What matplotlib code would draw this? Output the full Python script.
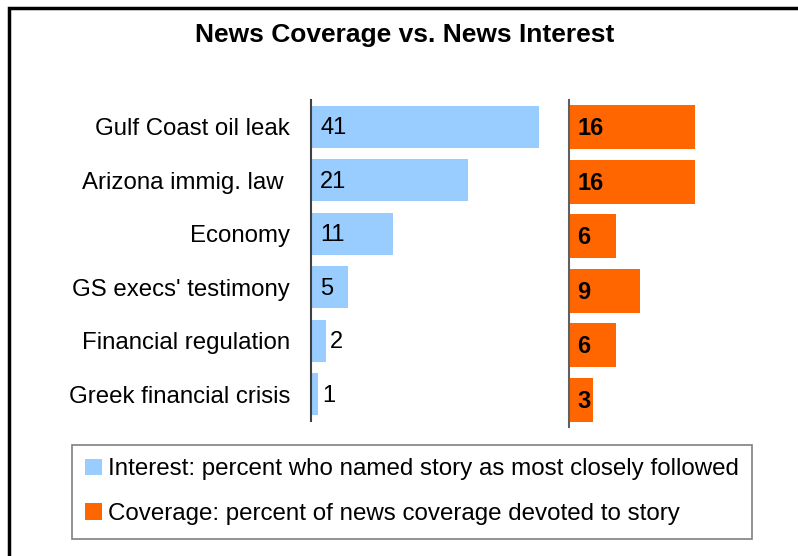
import matplotlib.pyplot as plt
from matplotlib.patches import Patch, Rectangle

plt.rcParams['font.family'] = ['Liberation Sans', 'DejaVu Sans']

stories = ["Gulf Coast oil leak", "Arizona immig. law ", "Economy",
           "GS execs' testimony", "Financial regulation", "Greek financial crisis"]
interest = [41, 21, 11, 5, 2, 1]
coverage = [16, 16, 6, 9, 6, 3]

legend_labels = ["Interest: percent who named story as most closely followed",
                 "Coverage: percent of news coverage devoted to story"]

blue = "#99CCFF"
orange = "#FF6600"

W, H = 798, 556
fig = plt.figure(figsize=(W / 100, H / 100), dpi=100)


def box(x0, y0, x1, y1):
    # pixel box (top-left origin) -> figure fractions
    return [x0 / W, 1 - y1 / H, (x1 - x0) / W, (y1 - y0) / H]


pos = list(range(len(stories)))

# interest panel
ax1 = fig.add_axes(box(311, 100, 539, 421))
ax1.barh(pos, interest, height=0.79, color=blue)
ax1.set_xlim(0, 30.5)   # longest bar is cut at the panel edge, as in the original
ax1.set_ylim(5.5, -0.5)
ax1.set_yticks(pos)
ax1.set_yticklabels(stories, fontsize=17.3)
ax1.tick_params(axis='y', length=0, pad=15)
ax1.set_xticks([])
for s in ["top", "right", "bottom"]:
    ax1.spines[s].set_visible(False)
ax1.spines["left"].set_color("#404040")
ax1.spines["left"].set_linewidth(1.5)
for i, v in enumerate(interest):
    if v >= 5:
        ax1.annotate(str(v), (0, i), xytext=(6.5, -1), textcoords="offset points",
                     ha="left", va="center", fontsize=17)
    else:
        ax1.annotate(str(v), (v, i), xytext=(3, -1), textcoords="offset points",
                     ha="left", va="center", fontsize=17)

# coverage panel
ax2 = fig.add_axes(box(569, 100, 720, 427))
ax2.barh(pos, coverage, height=0.81, color=orange)
ax2.set_xlim(0, 19.2)
ax2.set_ylim(5.5, -0.5)
ax2.set_xticks([])
ax2.set_yticks([])
for s in ["top", "right", "bottom"]:
    ax2.spines[s].set_visible(False)
ax2.spines["left"].set_color("#606060")
ax2.spines["left"].set_linewidth(1.5)
for i, v in enumerate(coverage):
    ax2.annotate(str(v), (0, i), xytext=(6, -1), textcoords="offset points",
                 ha="left", va="center", fontsize=17, fontweight="bold")

fig.text(405 / W, 1 - 35 / H, "News Coverage vs. News Interest",
         ha="center", va="center", fontsize=19, fontweight="bold")

handles = [Patch(facecolor=blue), Patch(facecolor=orange)]
leg = fig.legend(handles, legend_labels, loc="upper left",
                 bbox_to_anchor=(72 / W, 1 - 445 / H), fontsize=17.4,
                 fancybox=False, edgecolor="#808080", framealpha=1,
                 handlelength=0.68, handleheight=0.68, handletextpad=0.25,
                 labelspacing=0.95, borderpad=0.55, borderaxespad=0)
leg.get_frame().set_linewidth(1.2)

# outer frame (runs off the right and bottom edges)
fig.patches.append(Rectangle((9 / W, -0.1), 1.0, 1 - 8 / H + 0.1,
                             transform=fig.transFigure, fill=False,
                             edgecolor="black", linewidth=2.5))

fig.savefig("out.png", dpi=100)
